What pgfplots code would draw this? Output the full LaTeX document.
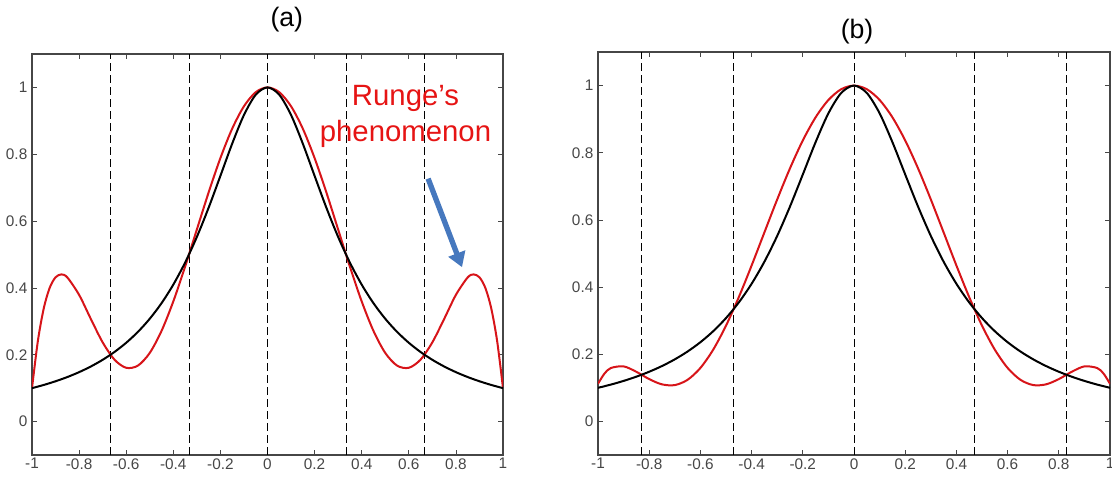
\documentclass[border=0pt]{standalone}
\usepackage{pgfplots}
\pgfplotsset{compat=1.18}
\usetikzlibrary{arrows.meta}
\usepackage{fontspec}
\setmainfont{Liberation Sans}
\definecolor{rred}{RGB}{215,20,25}
\definecolor{txtred}{RGB}{230,20,20}
\definecolor{arrblue}{RGB}{70,120,190}
\definecolor{tickgray}{RGB}{70,70,70}
\pgfplotsset{
  mystyle/.style={
    scale only axis,
    xmin=-1, xmax=1, ymin=-0.1, ymax=1.1,
    xtick={-1,-0.8,...,1}, ytick={0,0.2,...,1},
    tick align=inside, major tick length=4pt,
    xtick pos=both, ytick pos=both,
    xticklabel pos=lower, yticklabel pos=left,
    tick style={tickgray, line width=0.6pt},
    axis line style={tickgray, line width=0.8pt},
    /pgf/number format/assume math mode=true,
    ticklabel style={font=\fontsize{11.5}{13}\selectfont, text=tickgray},
    xticklabel style={yshift=1pt},
    every axis title shift=0pt,
    title style={font=\fontsize{20}{22}\selectfont, anchor=center, yshift=0pt},
    clip mode=individual,
  },
  blk/.style={black, line width=1.5pt, smooth},
  red/.style={rred, line width=1.5pt, smooth},
  dsh/.style={black, line width=0.6pt, dash pattern=on 6pt off 3pt},
}
\pgfplotstableread{
x y
-1 0.1
-0.95 0.10962
-0.9 0.12063
-0.85 0.13329
-0.8 0.14793
-0.75 0.16495
-0.7 0.18484
-0.65 0.20822
-0.6 0.23585
-0.55 0.26864
-0.5 0.30769
-0.45 0.35430
-0.4 0.40984
-0.35 0.47562
-0.3 0.55249
-0.25 0.64000
-0.2 0.73529
-0.15 0.83160
-0.1 0.91743
-0.05 0.97800
0 1
0.05 0.97800
0.1 0.91743
0.15 0.83160
0.2 0.73529
0.25 0.64000
0.3 0.55249
0.35 0.47562
0.4 0.40984
0.45 0.35430
0.5 0.30769
0.55 0.26864
0.6 0.23585
0.65 0.20822
0.7 0.18484
0.75 0.16495
0.8 0.14793
0.85 0.13329
0.9 0.12063
0.95 0.10962
1 0.1
}\runge
\pgfplotstableread{
x y
-1 0.1
-0.975 0.2416
-0.95 0.33903
-0.925 0.40009
-0.9 0.43181
-0.875 0.44040
-0.85 0.43136
-0.8 0.37921
-0.75 0.30687
-0.7 0.23715
-0.65 0.18545
-0.6 0.16092
-0.55 0.16761
-0.5 0.20547
-0.45 0.27129
-0.4 0.35958
-0.35 0.46333
-0.3 0.57470
-0.25 0.68568
-0.2 0.78857
-0.15 0.87647
-0.1 0.94361
-0.05 0.98568
0 1
0.05 0.98568
0.1 0.94361
0.15 0.87647
0.2 0.78857
0.25 0.68568
0.3 0.57470
0.35 0.46333
0.4 0.35958
0.45 0.27129
0.5 0.20547
0.55 0.16761
0.6 0.16092
0.65 0.18545
0.7 0.23715
0.75 0.30687
0.8 0.37921
0.85 0.43136
0.875 0.44040
0.9 0.43181
0.925 0.40009
0.95 0.33903
0.975 0.2416
1 0.1
}\equi
\pgfplotstableread{
x y
-1 0.112
-0.975 0.14224
-0.95 0.15895
-0.9 0.16388
-0.85 0.14764
-0.8 0.126
-0.75 0.11032
-0.7 0.10818
-0.65 0.12393
-0.6 0.15926
-0.55 0.21371
-0.5 0.28511
-0.45 0.37004
-0.4 0.46423
-0.35 0.56289
-0.3 0.66104
-0.25 0.75379
-0.2 0.83661
-0.15 0.90550
-0.1 0.95716
-0.05 0.98916
0 1
0.05 0.98916
0.1 0.95716
0.15 0.90550
0.2 0.83661
0.25 0.75379
0.3 0.66104
0.35 0.56289
0.4 0.46423
0.45 0.37004
0.5 0.28511
0.55 0.21371
0.6 0.15926
0.65 0.12393
0.7 0.10818
0.75 0.11032
0.8 0.126
0.85 0.14764
0.9 0.16388
0.95 0.15895
0.975 0.14224
1 0.112
}\cheb
\begin{document}
\begin{tikzpicture}
\path[use as bounding box] (0,0) rectangle (834pt,360.75pt);
\begin{axis}[mystyle, at={(24pt,19.5pt)}, anchor=south west,
  width=353.25pt, height=300.75pt,
  title={(a)}, title style={at={(0.541,1.085)}}]
\addplot[dsh] coordinates {(-0.6667,-0.1) (-0.6667,1.1)};
\addplot[dsh] coordinates {(-0.3333,-0.1) (-0.3333,1.1)};
\addplot[dsh] coordinates {(0,-0.1) (0,1.1)};
\addplot[dsh] coordinates {(0.3333,-0.1) (0.3333,1.1)};
\addplot[dsh] coordinates {(0.6667,-0.1) (0.6667,1.1)};
\addplot[red] table[x=x,y=y] {\equi};
\addplot[blk] table[x=x,y=y] {\runge};
\node[text=txtred, font=\fontsize{22}{27}\selectfont, align=center] at (axis cs:0.586,0.913) {Runge’s\\phenomenon};
\draw[arrblue, line width=4pt, -{Triangle[length=11pt,width=13pt]}] (axis cs:0.682,0.727) -- (axis cs:0.826,0.462);
\end{axis}
\begin{axis}[mystyle, at={(448.5pt,19.5pt)}, anchor=south west,
  width=384pt, height=302.25pt,
  title={(b)}, title style={at={(0.506,1.05)}}]
\addplot[dsh] coordinates {(-0.83,-0.1) (-0.83,1.1)};
\addplot[dsh] coordinates {(-0.47,-0.1) (-0.47,1.1)};
\addplot[dsh] coordinates {(0,-0.1) (0,1.1)};
\addplot[dsh] coordinates {(0.47,-0.1) (0.47,1.1)};
\addplot[dsh] coordinates {(0.83,-0.1) (0.83,1.1)};
\addplot[red] table[x=x,y=y] {\cheb};
\addplot[blk] table[x=x,y=y] {\runge};
\end{axis}
\end{tikzpicture}
\end{document}
